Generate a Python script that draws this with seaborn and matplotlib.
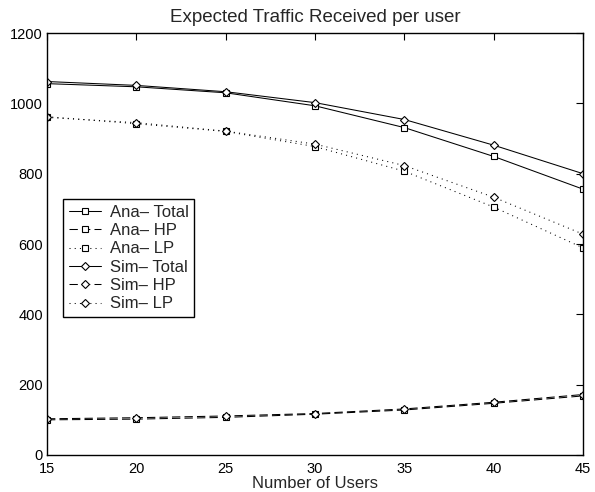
import matplotlib
matplotlib.use("Agg")
import matplotlib.pyplot as plt
import seaborn as sns
import pandas as pd

users = [15, 20, 25, 30, 35, 40, 45]
ana_total = [1056, 1047, 1030, 993, 931, 849, 756]
ana_hp = [100, 102, 107, 116, 128, 147, 168]
ana_lp = [962, 942, 920, 877, 807, 705, 589]
sim_total = [1062, 1051, 1033, 1002, 954, 881, 800]
sim_hp = [103, 106, 111, 118, 131, 150, 172]
sim_lp = [960, 945, 921, 884, 823, 733, 628]

labels = ["Ana\u2013 Total", "Ana\u2013 HP", "Ana\u2013 LP",
          "Sim\u2013 Total", "Sim\u2013 HP", "Sim\u2013 LP"]
values = [ana_total, ana_hp, ana_lp, sim_total, sim_hp, sim_lp]
markers = ["s", "s", "s", "D", "D", "D"]
styles = ["-", (0, (8, 4)), (0, (1, 4)), "-", (0, (8, 4)), (0, (1, 4))]

sns.set_style("white")
plt.rcParams['font.family'] = ['Liberation Sans', 'DejaVu Sans']

fig = plt.figure(figsize=(5.95, 4.92), dpi=100)
ax = fig.add_axes([47/595, 37/492, 536/595, 422/492])

for name, vals, mk, ls in zip(labels, values, markers, styles):
    df = pd.DataFrame({"x": users, "y": vals})
    sns.lineplot(data=df, x="x", y="y", ax=ax, color="black", linewidth=0.75,
                 linestyle=ls, marker=mk, markersize=4.5,
                 markerfacecolor="white", markeredgecolor="black",
                 markeredgewidth=0.8, label=name)

ax.set_xlim(15, 45)
ax.set_ylim(0, 1200)
ax.set_xticks(users)
ax.set_yticks(range(0, 1201, 200))
ax.tick_params(direction="in", top=True, right=True, length=5, width=0.8,
               labelsize=10.5, colors="black", pad=3)
ax.tick_params(axis="x", pad=5)
for s in ax.spines.values():
    s.set_visible(True)
    s.set_color("black")
    s.set_linewidth(1.0)
ax.set_xlabel("Number of Users", fontsize=12, labelpad=0)
ax.set_ylabel("")
ax.set_title("Expected Traffic Received per user", fontsize=13.5, pad=8)

leg = ax.legend(loc="upper left", bbox_to_anchor=(0.03, 0.607), fontsize=12,
                frameon=True, fancybox=False, edgecolor="black",
                handlelength=1.9, handletextpad=0.55, borderpad=0.35,
                labelspacing=0.2, borderaxespad=0, framealpha=1)
leg.get_frame().set_linewidth(1.0)

fig.savefig("out.png", dpi=100)
